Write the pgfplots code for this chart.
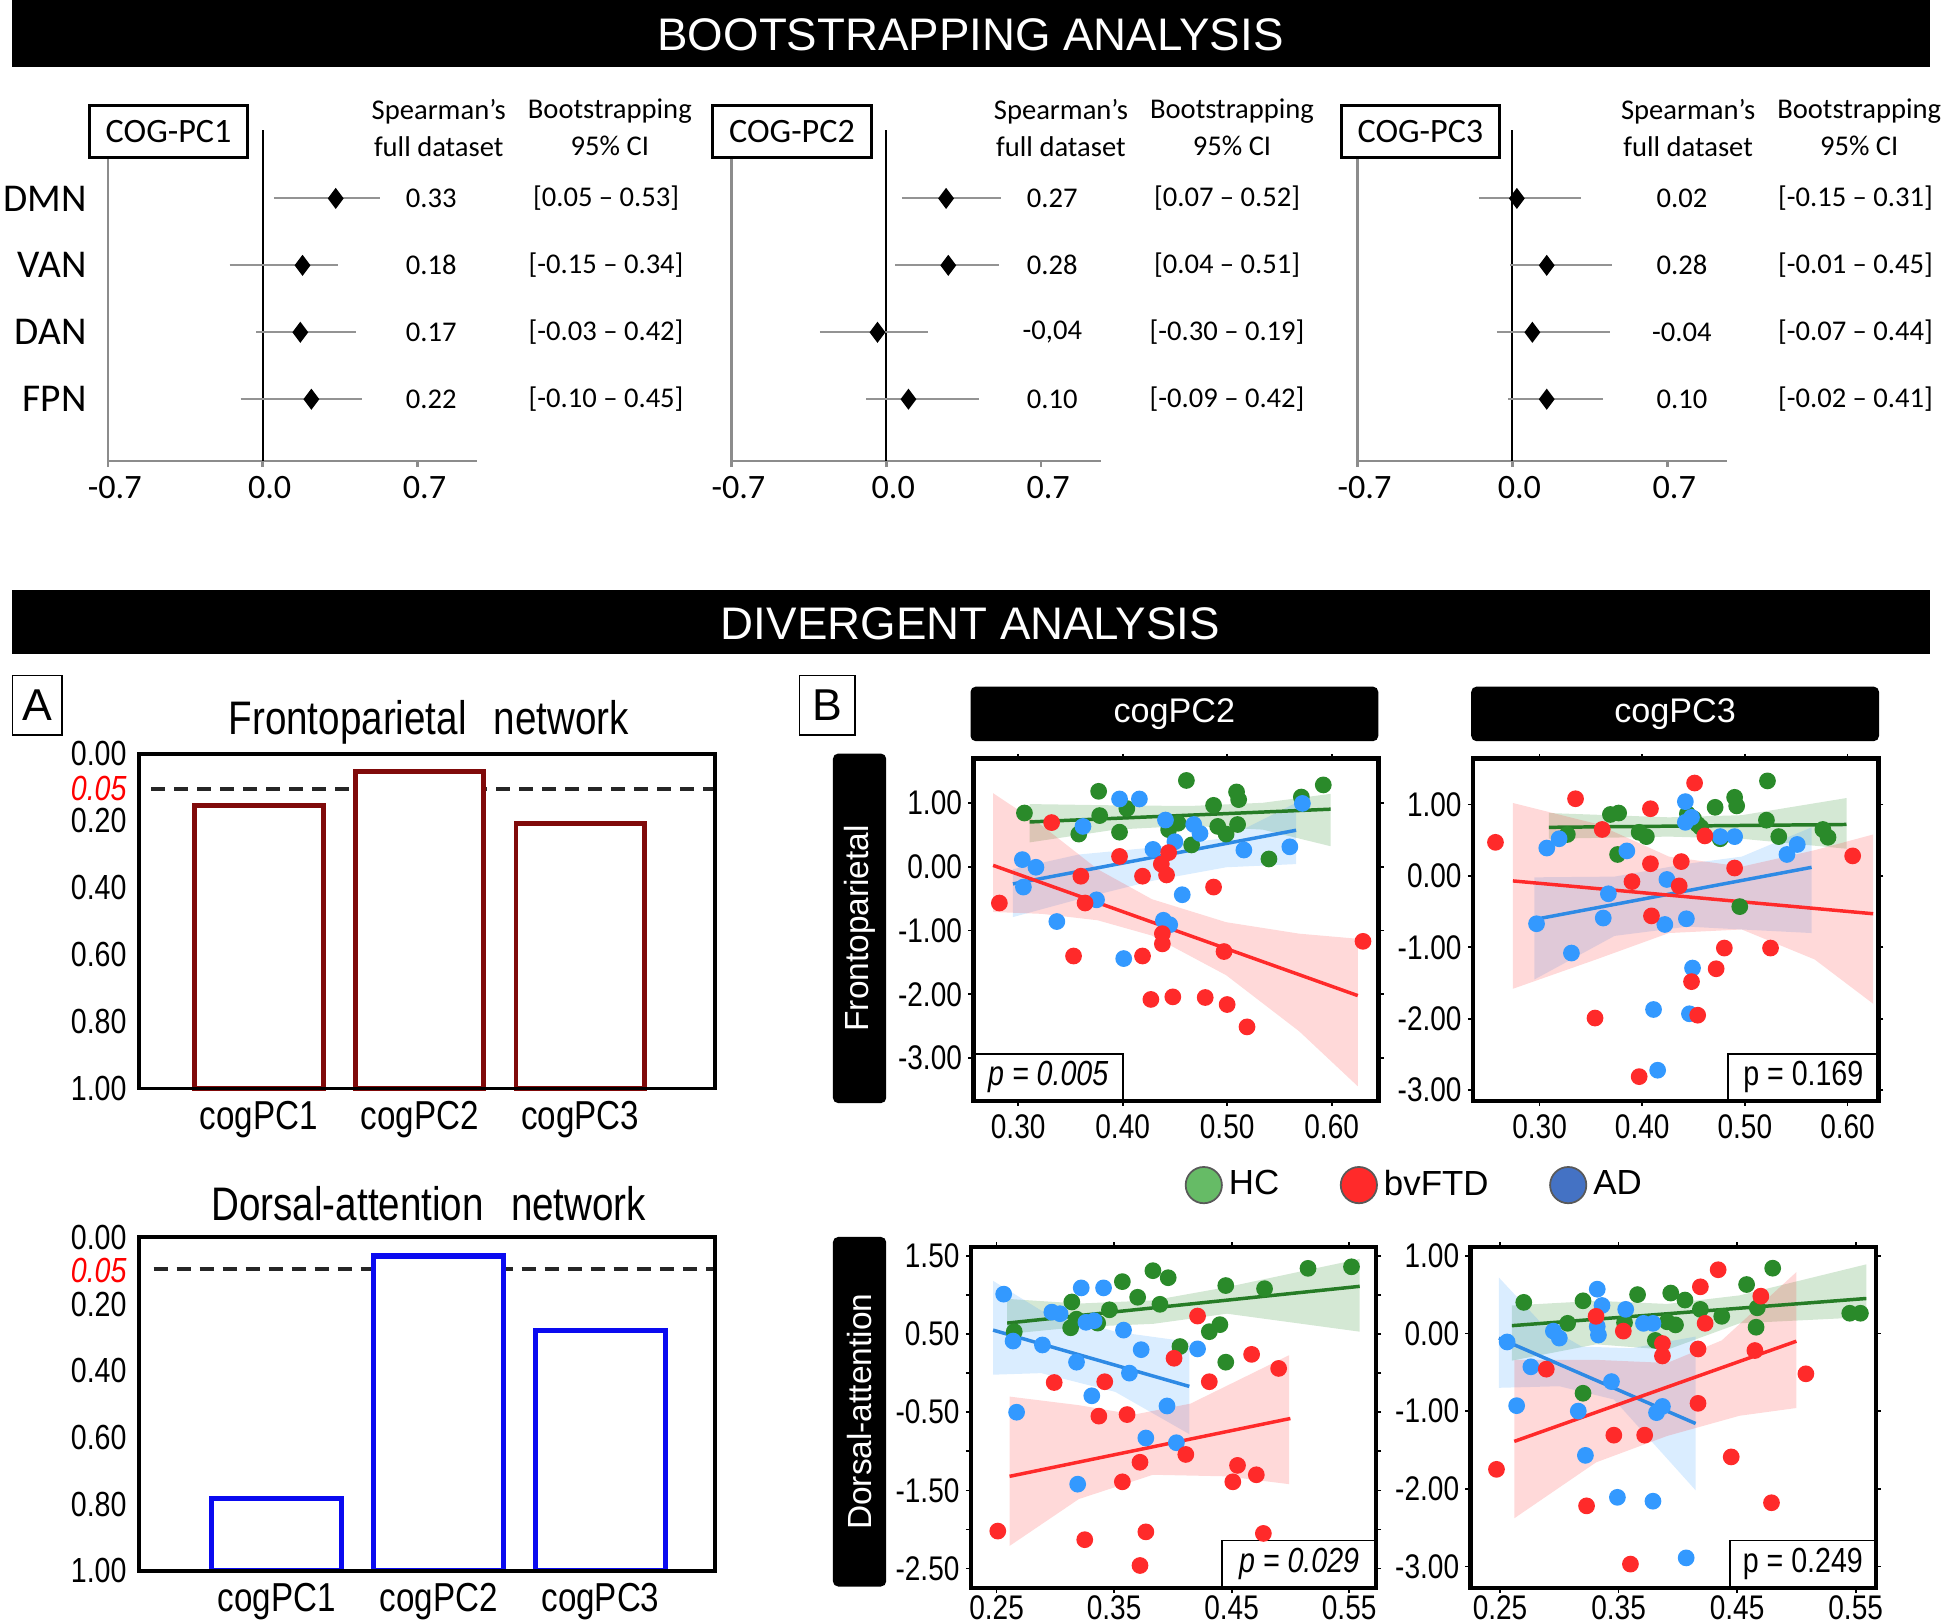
\documentclass[border=0pt]{standalone}
\usepackage{pgfplots}
\pgfplotsset{compat=1.18}
\usepackage{fontspec}
\setmainfont{Liberation Sans}
\newfontfamily\calib{Carlito}
\newfontfamily\narrow{Liberation Sans}[FakeStretch=0.82]
\newcommand\fs[1]{\fontsize{#1}{#1}\selectfont}
\definecolor{hcg}{HTML}{2A8A2A}
\definecolor{ftdr}{HTML}{FF2A2A}
\definecolor{adb}{HTML}{3399FF}
\definecolor{hcl}{HTML}{66BB66}
\definecolor{adl}{HTML}{4472C4}
\definecolor{barred}{HTML}{800A0A}
\definecolor{barblue}{HTML}{0A0AF0}
\definecolor{axgray}{HTML}{8C8C8C}
\pgfplotsset{
 forest/.style={scale only axis, width=3.725cm, height=3.3375cm, anchor=south west,
   xmin=-0.7, xmax=0.97, ymin=0.074, ymax=5.02, axis x line=bottom, axis y line=left,
   axis line style={draw=axgray, line width=0.7pt, -}, xtick={-0.7,0,0.7}, xticklabels={-0.7,0.0,0.7},
   xtick style={draw=axgray, line width=0.7pt}, major tick length=0.06cm, tick align=outside,
   xticklabel style={font=\calib\fs{9.8pt}, xshift=0.07cm, yshift=0.03cm}, ytick=\empty, clip=false},
 ci/.style={draw=gray!85, line width=0.6pt},
 dia/.style={only marks, mark=diamond*, mark size=2.7pt, black},
 barax/.style={scale only axis, width=5.8125cm, anchor=north west, ybar stacked, bar width=0.8,
   ymin=0, ymax=1, y dir=reverse, xtick={1,2,3}, xticklabels={cogPC1,cogPC2,cogPC3},
   major tick length=0pt, axis line style={line width=1.1pt},
   yticklabel style={font=\narrow\fs{10pt}}, xticklabel style={font=\narrow\fs{11.6pt}},
   axis on top, clip=false},
 scat/.style={scale only axis, width=4.0875cm, anchor=north west, axis line style={line width=1.3pt},
   tick align=outside, major tick length=0.05cm, minor tick length=0.05cm,
   tick style={black, line width=0.5pt}, ticklabel style={font=\narrow\fs{9.8pt}},
   yticklabel style={xshift=0.06cm}, axis on top},
 hc/.style={only marks, mark=*, mark size=2.2pt, color=hcg},
 ftd/.style={only marks, mark=*, mark size=2.2pt, color=ftdr},
 ad/.style={only marks, mark=*, mark size=2.2pt, color=adb},
 bg/.style={draw=none, fill=hcg, fill opacity=0.2},
 bb/.style={draw=none, fill=adb, fill opacity=0.18},
 br/.style={draw=none, fill=ftdr, fill opacity=0.18},
 lg/.style={no marks, line width=1pt, draw=hcg!90!black},
 lb/.style={no marks, line width=1pt, draw=adb!90!black},
 lr/.style={no marks, line width=1pt, draw=ftdr},
}
\begin{document}
\begin{tikzpicture}
\path[use as bounding box] (0,0) rectangle (19.6cm,-16.35cm);

% ---------------- Forest plots ----------------
\begin{axis}[forest, at={(1.0875cm,-4.65cm)}, ytick={1,2,3,4}, yticklabels={FPN,DAN,VAN,DMN},
  y tick style={draw=none}, yticklabel style={font=\calib\fs{11.3pt}, xshift=-0.03cm}]
\draw[black, line width=0.6pt] (axis cs:0,0.074) -- (axis cs:0,5.02);
\addplot[ci] coordinates {(0.05,4) (0.53,4)};
\addplot[ci] coordinates {(-0.15,3) (0.34,3)};
\addplot[ci] coordinates {(-0.03,2) (0.42,2)};
\addplot[ci] coordinates {(-0.10,1) (0.45,1)};
\addplot[dia] coordinates {(0.33,4) (0.18,3) (0.17,2) (0.22,1)};
\end{axis}

\begin{axis}[forest, at={(7.375cm,-4.65cm)}]
\draw[black, line width=0.6pt] (axis cs:0,0.074) -- (axis cs:0,5.02);
\addplot[ci] coordinates {(0.07,4) (0.52,4)};
\addplot[ci] coordinates {(0.04,3) (0.51,3)};
\addplot[ci] coordinates {(-0.30,2) (0.19,2)};
\addplot[ci] coordinates {(-0.09,1) (0.42,1)};
\addplot[dia] coordinates {(0.27,4) (0.28,3) (-0.04,2) (0.10,1)};
\end{axis}

\begin{axis}[forest, at={(13.6875cm,-4.65cm)}]
\draw[black, line width=0.6pt] (axis cs:0,0.074) -- (axis cs:0,5.02);
\addplot[ci] coordinates {(-0.15,4) (0.31,4)};
\addplot[ci] coordinates {(-0.01,3) (0.45,3)};
\addplot[ci] coordinates {(-0.07,2) (0.44,2)};
\addplot[ci] coordinates {(-0.02,1) (0.41,1)};
\addplot[dia] coordinates {(0.02,4) (0.155,3) (0.09,2) (0.155,1)};
\end{axis}

% ---------------- Bar charts ----------------
\begin{axis}[barax, at={(1.4cm,-7.6cm)}, height=3.375cm, xmin=0.254, xmax=3.84,
  ytick={0,0.105,0.2,0.4,0.6,0.8,1},
  yticklabels={0.00,{\color{red}\itshape 0.05},0.20,0.40,0.60,0.80,1.00}]
\addplot[draw=none, fill=none] coordinates {(1,0.154) (2,0.053) (3,0.209)};
\addplot[draw=barred, fill=white, line width=1.4pt] coordinates {(1,0.846) (2,0.947) (3,0.791)};
\draw[black!85, line width=1.1pt, dash pattern=on 4pt off 2.6pt] (axis cs:0.33,0.105) -- (axis cs:3.84,0.105);
\end{axis}

\begin{axis}[barax, at={(1.4cm,-12.475cm)}, height=3.3625cm, xmin=0.149, xmax=3.71,
  ytick={0,0.1,0.2,0.4,0.6,0.8,1},
  yticklabels={0.00,{\color{red}\itshape 0.05},0.20,0.40,0.60,0.80,1.00}]
\addplot[draw=none, fill=none] coordinates {(1,0.784) (2,0.056) (3,0.280)};
\addplot[draw=barblue, fill=white, line width=1.5pt] coordinates {(1,0.216) (2,0.944) (3,0.720)};
\draw[black!85, line width=1.1pt, dash pattern=on 4pt off 2.6pt] (axis cs:0.24,0.095) -- (axis cs:3.71,0.095);
\end{axis}

% ---------------- Scatter: Frontoparietal / cogPC2 ----------------
\begin{axis}[scat, at={(9.8125cm,-7.65cm)}, height=3.45cm,
  xmin=0.257, xmax=0.645, ymin=-3.67, ymax=1.69,
  xtick={0.3,0.4,0.5,0.6}, xticklabels={0.30,0.40,0.50,0.60}, xticklabel style={yshift=1pt},
  ytick={1,0,-1,-2,-3}, yticklabels={1.00,0.00,-1.00,-2.00,-3.00},
  legend style={at={(1.095,-0.246)}, anchor=center, draw=none, fill=none, legend columns=3,
    font=\fs{10pt}, /tikz/every even column/.append style={column sep=0.55cm}},
  legend cell align=left]
\addlegendimage{only marks, mark=*, mark size=5.2pt, mark options={fill=hcl, draw=black!65, line width=0.5pt}}
\addlegendimage{only marks, mark=*, mark size=5.2pt, mark options={fill=ftdr, draw=black!65, line width=0.5pt}}
\addlegendimage{only marks, mark=*, mark size=5.2pt, mark options={fill=adl, draw=black!65, line width=0.5pt}}
\legend{HC,bvFTD,AD}
\addplot[hc] coordinates {(0.306,0.84) (0.377,1.18) (0.378,0.80) (0.358,0.51) (0.397,0.54) (0.404,0.91)
 (0.461,1.35) (0.444,0.58) (0.453,0.68) (0.487,0.96) (0.509,1.17) (0.511,1.05) (0.491,0.63) (0.499,0.51)
 (0.510,0.66) (0.466,0.34) (0.540,0.12) (0.571,1.09) (0.592,1.28)};
\addplot[ad] coordinates {(0.397,1.06) (0.416,1.06) (0.362,0.63) (0.441,0.73) (0.468,0.66) (0.474,0.52)
 (0.450,0.39) (0.429,0.27) (0.516,0.26) (0.560,0.31) (0.572,0.99) (0.304,0.11) (0.317,-0.01) (0.305,-0.32)
 (0.375,-0.52) (0.337,-0.86) (0.457,-0.44) (0.439,-0.84) (0.445,-0.91) (0.401,-1.44)};
\addplot[ftd] coordinates {(0.332,0.69) (0.282,-0.57) (0.397,0.16) (0.444,0.22) (0.437,0.04) (0.442,-0.13)
 (0.419,-0.15) (0.360,-0.15) (0.364,-0.57) (0.487,-0.32) (0.438,-1.05) (0.438,-1.21) (0.353,-1.40)
 (0.419,-1.40) (0.497,-1.33) (0.630,-1.17) (0.427,-2.08) (0.448,-2.04) (0.479,-2.05) (0.500,-2.16) (0.519,-2.51)};
\addplot[bg] coordinates {(0.311,0.98) (0.393,0.96) (0.464,0.95) (0.534,1.00) (0.599,1.14)
 (0.599,0.32) (0.534,0.58) (0.464,0.64) (0.393,0.58) (0.311,0.38)} -- cycle;
\addplot[bb] coordinates {(0.295,-0.04) (0.358,0.19) (0.429,0.30) (0.499,0.45) (0.566,1.00)
 (0.566,0.04) (0.499,-0.01) (0.429,-0.22) (0.358,-0.51) (0.295,-0.79)} -- cycle;
\addplot[br] coordinates {(0.276,1.15) (0.323,0.64) (0.376,-0.04) (0.428,-0.51) (0.499,-0.87) (0.569,-1.05) (0.625,-1.13)
 (0.625,-3.44) (0.569,-2.58) (0.499,-1.70) (0.428,-1.08) (0.376,-0.84) (0.323,-0.74) (0.276,-0.71)} -- cycle;
\addplot[lg] coordinates {(0.311,0.70) (0.599,0.90)};
\addplot[lb] coordinates {(0.295,-0.27) (0.566,0.57)};
\addplot[lr] coordinates {(0.276,0.02) (0.625,-2.02)};
\draw[line width=0.5pt, fill=white] (rel axis cs:0,0) rectangle (rel axis cs:0.37,0.138);
\node[font=\narrow\fs{10pt}\itshape] at (rel axis cs:0.185,0.069) {p = 0.005};
\end{axis}

% ---------------- Scatter: Frontoparietal / cogPC3 ----------------
\begin{axis}[scat, at={(14.85cm,-7.65cm)}, height=3.45cm,
  xmin=0.235, xmax=0.630, ymin=-3.15, ymax=1.64,
  xtick={0.3,0.4,0.5,0.6}, xticklabels={0.30,0.40,0.50,0.60}, xticklabel style={yshift=1pt},
  ytick={1,0,-1,-2,-3}, yticklabels={1.00,0.00,-1.00,-2.00,-3.00}]
\addplot[hc] coordinates {(0.327,0.58) (0.369,0.86) (0.377,0.88) (0.397,0.61) (0.404,0.55) (0.376,0.30)
 (0.444,0.87) (0.450,0.80) (0.454,0.72) (0.457,0.68) (0.471,0.96) (0.476,0.52) (0.490,1.10) (0.492,0.98)
 (0.522,1.33) (0.521,0.78) (0.533,0.55) (0.576,0.65) (0.581,0.54) (0.495,-0.43)};
\addplot[ad] coordinates {(0.442,1.04) (0.442,0.75) (0.448,0.82) (0.476,0.55) (0.490,0.55) (0.385,0.35)
 (0.307,0.39) (0.319,0.52) (0.541,0.30) (0.551,0.44) (0.297,-0.67) (0.331,-1.08) (0.367,-0.25) (0.362,-0.59)
 (0.424,-0.05) (0.422,-0.68) (0.443,-0.60) (0.449,-1.29) (0.411,-1.87) (0.446,-1.93) (0.415,-2.72)};
\addplot[ftd] coordinates {(0.257,0.47) (0.335,1.08) (0.361,0.65) (0.408,0.94) (0.451,1.30) (0.461,0.56)
 (0.408,0.17) (0.438,0.20) (0.490,0.11) (0.390,-0.08) (0.436,-0.14) (0.409,-0.56) (0.480,-1.01) (0.525,-1.01)
 (0.472,-1.30) (0.448,-1.48) (0.354,-1.99) (0.454,-1.95) (0.397,-2.81) (0.605,0.28)};
\addplot[bg] coordinates {(0.309,0.88) (0.426,0.82) (0.497,0.85) (0.599,1.09)
 (0.599,0.38) (0.497,0.52) (0.426,0.55) (0.309,0.52)} -- cycle;
\addplot[bb] coordinates {(0.295,-0.02) (0.373,-0.01) (0.444,0.17) (0.497,0.27) (0.565,0.68)
 (0.565,-0.80) (0.497,-0.75) (0.444,-0.71) (0.373,-0.84) (0.295,-1.45)} -- cycle;
\addplot[br] coordinates {(0.274,1.02) (0.355,0.73) (0.426,0.27) (0.497,0.13) (0.568,0.36) (0.625,0.58)
 (0.625,-1.79) (0.568,-1.17) (0.497,-0.75) (0.426,-0.80) (0.355,-1.17) (0.274,-1.58)} -- cycle;
\addplot[lg] coordinates {(0.309,0.68) (0.599,0.72)};
\addplot[lb] coordinates {(0.295,-0.61) (0.565,0.12)};
\addplot[lr] coordinates {(0.274,-0.07) (0.625,-0.53)};
\draw[line width=0.5pt, fill=white] (rel axis cs:0.63,0) rectangle (rel axis cs:1,0.138);
\node[font=\narrow\fs{10pt}] at (rel axis cs:0.815,0.069) {p = 0.169};
\end{axis}

% ---------------- Scatter: Dorsal-attention / cogPC2 ----------------
\begin{axis}[scat, at={(9.7875cm,-12.575cm)}, height=3.4375cm,
  xmin=0.228, xmax=0.573, ymin=-2.75, ymax=1.61,
  xtick={0.25,0.35,0.45,0.55}, xticklabels={0.25,0.35,0.45,0.55}, xticklabel style={yshift=2.8pt},
  ytick={1.5,0.5,-0.5,-1.5,-2.5}, yticklabels={1.50,0.50,-0.50,-1.50,-2.50},
  minor ytick={1,0,-1,-2}]
\addplot[hc] coordinates {(0.265,0.53) (0.314,0.91) (0.318,0.69) (0.313,0.58) (0.336,0.64) (0.346,0.81)
 (0.357,1.17) (0.370,0.97) (0.383,1.31) (0.389,0.88) (0.396,1.22) (0.406,0.34) (0.431,0.53) (0.440,0.62)
 (0.445,0.14) (0.445,1.12) (0.478,1.08) (0.515,1.34) (0.552,1.36)};
\addplot[ad] coordinates {(0.256,1.01) (0.322,1.09) (0.341,1.09) (0.297,0.78) (0.304,0.76) (0.326,0.65)
 (0.333,0.67) (0.358,0.55) (0.264,0.41) (0.289,0.36) (0.318,0.14) (0.373,0.30) (0.363,0.00) (0.421,0.31)
 (0.331,-0.29) (0.395,-0.42) (0.267,-0.50) (0.377,-0.83) (0.403,-0.89) (0.319,-1.42)};
\addplot[ftd] coordinates {(0.421,0.73) (0.401,0.19) (0.467,0.24) (0.490,0.06) (0.299,-0.12) (0.342,-0.11)
 (0.431,-0.11) (0.337,-0.55) (0.361,-0.53) (0.411,-1.04) (0.372,-1.14) (0.455,-1.18) (0.471,-1.30)
 (0.357,-1.39) (0.451,-1.39) (0.251,-2.02) (0.325,-2.13) (0.377,-2.03) (0.477,-2.05) (0.372,-2.46)};
\addplot[bg] coordinates {(0.259,0.95) (0.320,0.89) (0.383,0.93) (0.446,1.10) (0.559,1.46)
 (0.559,0.53) (0.446,0.76) (0.383,0.63) (0.320,0.59) (0.259,0.50)} -- cycle;
\addplot[bb] coordinates {(0.247,1.18) (0.288,0.80) (0.351,0.53) (0.414,0.40)
 (0.414,-0.78) (0.351,-0.24) (0.288,0.00) (0.247,-0.02)} -- cycle;
\addplot[br] coordinates {(0.261,-0.30) (0.320,-0.41) (0.367,-0.53) (0.415,-0.39) (0.499,0.23)
 (0.499,-1.42) (0.446,-1.32) (0.383,-1.30) (0.320,-1.61) (0.261,-2.21)} -- cycle;
\addplot[lg] coordinates {(0.259,0.64) (0.559,1.11)};
\addplot[lb] coordinates {(0.247,0.55) (0.414,-0.17)};
\addplot[lr] coordinates {(0.261,-1.32) (0.500,-0.58)};
\draw[line width=0.5pt, fill=white] (rel axis cs:0.62,0) rectangle (rel axis cs:1,0.14);
\node[font=\narrow\fs{10pt}\itshape] at (rel axis cs:0.81,0.07) {p = 0.029};
\end{axis}

% ---------------- Scatter: Dorsal-attention / cogPC3 ----------------
\begin{axis}[scat, at={(14.825cm,-12.575cm)}, height=3.4375cm,
  xmin=0.225, xmax=0.567, ymin=-3.28, ymax=1.11,
  xtick={0.25,0.35,0.45,0.55}, xticklabels={0.25,0.35,0.45,0.55}, xticklabel style={yshift=2.8pt},
  ytick={1,0,-1,-2,-3}, yticklabels={1.00,0.00,-1.00,-2.00,-3.00}]
\addplot[hc] coordinates {(0.270,0.40) (0.320,0.42) (0.307,0.13) (0.366,0.50) (0.394,0.52) (0.406,0.43)
 (0.419,0.31) (0.437,0.22) (0.458,0.63) (0.480,0.84) (0.467,0.33) (0.466,0.08) (0.355,0.14) (0.391,0.15)
 (0.398,0.11) (0.381,-0.09) (0.320,-0.77) (0.545,0.26) (0.554,0.26)};
\addplot[ad] coordinates {(0.332,0.57) (0.336,0.36) (0.332,0.09) (0.333,-0.02) (0.356,0.31) (0.371,0.13)
 (0.379,0.13) (0.295,0.03) (0.300,-0.06) (0.256,-0.11) (0.276,-0.43) (0.344,-0.62) (0.264,-0.93)
 (0.316,-1.00) (0.382,-1.02) (0.387,-0.94) (0.322,-1.57) (0.349,-2.11) (0.379,-2.16) (0.407,-2.89)};
\addplot[ftd] coordinates {(0.434,0.82) (0.419,0.60) (0.470,0.48) (0.423,0.13) (0.331,0.22) (0.354,0.03)
 (0.387,-0.13) (0.387,-0.29) (0.417,-0.20) (0.465,-0.22) (0.289,-0.46) (0.508,-0.52) (0.417,-0.90)
 (0.346,-1.31) (0.372,-1.31) (0.445,-1.59) (0.247,-1.75) (0.323,-2.22) (0.479,-2.18) (0.360,-2.97)};
\addplot[bg] coordinates {(0.260,0.36) (0.331,0.42) (0.391,0.38) (0.452,0.49) (0.559,0.89)
 (0.559,0.21) (0.452,0.13) (0.391,-0.21) (0.331,-0.14) (0.260,-0.35)} -- cycle;
\addplot[bb] coordinates {(0.249,0.72) (0.285,0.13) (0.319,-0.17) (0.361,-0.19) (0.415,-0.04)
 (0.415,-2.02) (0.346,-0.85) (0.300,-0.68) (0.249,-0.70)} -- cycle;
\addplot[br] coordinates {(0.262,-0.34) (0.331,-0.34) (0.391,-0.38) (0.437,-0.09) (0.500,0.79)
 (0.500,-0.96) (0.452,-1.06) (0.391,-1.32) (0.331,-1.66) (0.262,-2.38)} -- cycle;
\addplot[lg] coordinates {(0.260,0.10) (0.559,0.45)};
\addplot[lb] coordinates {(0.249,-0.06) (0.415,-1.16)};
\addplot[lr] coordinates {(0.262,-1.39) (0.500,-0.10)};
\draw[line width=0.5pt, fill=white] (rel axis cs:0.64,0) rectangle (rel axis cs:1,0.14);
\node[font=\narrow\fs{10pt}] at (rel axis cs:0.82,0.07) {p = 0.249};
\end{axis}

% ---------------- Annotations ----------------
\begin{scope}[x=0.0125cm, y=-0.0125cm]
\fill (10,0) rectangle (1557,54);
\node[white, font=\fs{13.1pt}] at (783,28) {BOOTSTRAPPING ANALYSIS};
\fill (10,476) rectangle (1557,528);
\node[white, font=\fs{13.1pt}] at (783,503) {DIVERGENT ANALYSIS};

\foreach \bx/\lab in {72/1, 575/2, 1082/3}{
  \draw[line width=0.85pt, fill=white] (\bx,85) rectangle ++(128,42);
  \node[font=\calib\fs{9.8pt}] at (\bx+64,106) {COG-PC\lab};
}
\begin{scope}[every node/.style={font=\calib\fs{8.2pt}}]
\foreach \cx/\dx in {354/492, 856/994, 1362/1500}{
  \node at (\cx,90) {Spearman’s};
  \node at (\cx,118) {full dataset};
  \node at (\dx,90) {Bootstrapping};
  \node at (\dx,118) {95\% CI};
}
\node at (348,160) {0.33}; \node at (348,214) {0.18}; \node at (348,268) {0.17}; \node at (348,322) {0.22};
\node at (489,160) {[0.05 – 0.53]}; \node at (489,214) {[-0.15 – 0.34]}; \node at (489,268) {[-0.03 – 0.42]}; \node at (489,322) {[-0.10 – 0.45]};
\node at (849,160) {0.27}; \node at (849,214) {0.28}; \node at (849,268) {-0,04}; \node at (849,322) {0.10};
\node at (990,160) {[0.07 – 0.52]}; \node at (990,214) {[0.04 – 0.51]}; \node at (990,268) {[-0.30 – 0.19]}; \node at (990,322) {[-0.09 – 0.42]};
\node at (1357,160) {0.02}; \node at (1357,214) {0.28}; \node at (1357,268) {-0.04}; \node at (1357,322) {0.10};
\node at (1497,160) {[-0.15 – 0.31]}; \node at (1497,214) {[-0.01 – 0.45]}; \node at (1497,268) {[-0.07 – 0.44]}; \node at (1497,322) {[-0.02 – 0.41]};
\end{scope}

\draw[line width=0.5pt] (10,545) rectangle (50,593);
\node[font=\fs{12.8pt}] at (30,569) {A};
\draw[line width=0.5pt] (645,545) rectangle (690,593);
\node[font=\fs{12.8pt}] at (667.5,569) {B};
\node[font=\narrow\fs{13.5pt}] at (346,583) {Frontoparietal\hspace{0.35em} network};
\node[font=\narrow\fs{13.5pt}] at (346,971) {Dorsal-attention\hspace{0.35em} network};

\fill[rounded corners=1.5pt] (783,554) rectangle (1112,598);
\node[white, font=\fs{9.8pt}] at (947.5,576) {cogPC2};
\fill[rounded corners=1.5pt] (1187,554) rectangle (1516,598);
\node[white, font=\fs{9.8pt}] at (1351.5,576) {cogPC3};
\fill[rounded corners=1.5pt] (672,608) rectangle (715,890);
\node[white, rotate=90, font=\fs{9.6pt}] at (693.5,749) {Frontoparietal};
\fill[rounded corners=1.5pt] (672,998) rectangle (715,1280);
\node[white, rotate=90, font=\fs{9.6pt}] at (693.5,1139) {Dorsal-attention};
\end{scope}
\end{tikzpicture}
\end{document}
